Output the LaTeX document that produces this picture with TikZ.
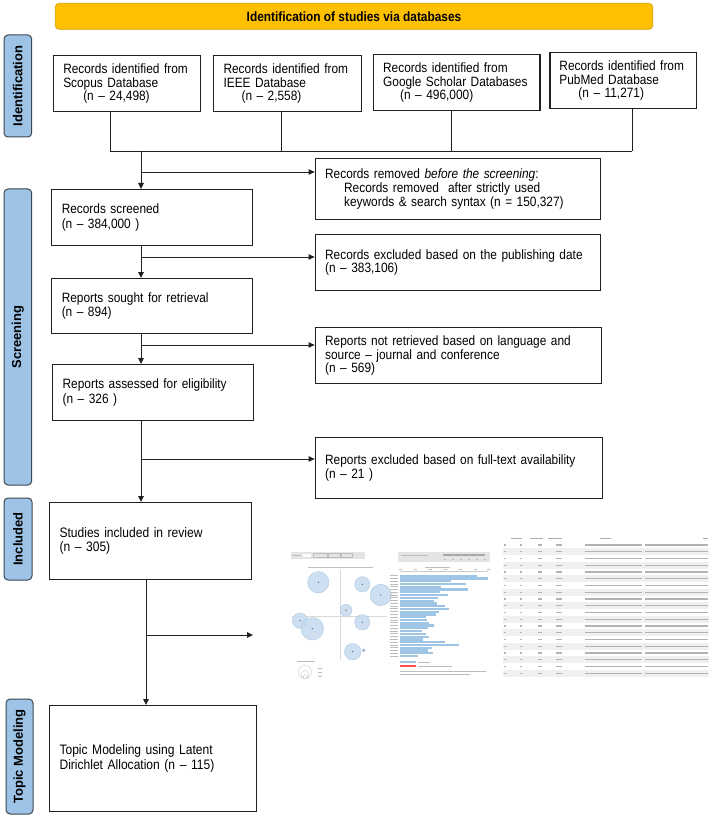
\documentclass[tikz,border=0pt]{standalone}
\usepackage{fontspec}
\setmainfont{Liberation Sans}
\newfontfamily\narrowfont[FakeStretch=0.88]{Liberation Sans}
\usetikzlibrary{arrows.meta}
\definecolor{linec}{HTML}{202020}
\definecolor{gold}{HTML}{FFC000}
\definecolor{goldb}{HTML}{D9A300}
\definecolor{lblue}{HTML}{9DC3E6}
\definecolor{lblueb}{HTML}{3E4650}
\definecolor{circf}{HTML}{C4D9EE}
\definecolor{circd}{HTML}{A8C4E0}
\definecolor{barc}{HTML}{9EC4E6}
\definecolor{shotg}{HTML}{E4E4E4}
\definecolor{txtg}{HTML}{BDBDBD}
\definecolor{tabg}{HTML}{B3B3B3}
\definecolor{rowg}{HTML}{F0F0F0}
\begin{document}
\begin{tikzpicture}[x=1pt,y=-1pt,
  box/.style={draw=linec, line width=1.1pt, align=left, inner xsep=10pt, inner ysep=0pt, anchor=north west, font=\narrowfont\fontsize{13.5}{13.8}\selectfont},
  lbox/.style={box, font=\narrowfont\fontsize{13.5}{14.2}\selectfont},
  lbl/.style={draw=lblueb, fill=lblue, rounded corners=4pt, line width=1pt, rotate=90, font=\fontsize{13}{15}\selectfont\bfseries, inner sep=0pt},
  conn/.style={draw=linec, line width=0.9pt},
  arr/.style={conn, -{Triangle[length=6pt,width=5.5pt]}},
]
\useasboundingbox (0,0) rectangle (709,818);

% banner
\node[draw=goldb, fill=gold, rounded corners=4pt, line width=0.8pt, minimum width=597.5pt, minimum height=26pt, inner sep=0pt, font=\narrowfont\fontsize{13.5}{15}\selectfont\bfseries] (banner) at (354,16.3) {Identification of studies via databases};

% side labels
\node[lbl, minimum width=102pt, minimum height=27.7pt] (lbl1) at (17.85,86) {Identification};
\node[lbl, minimum width=296pt, minimum height=27.7pt] (lbl2) at (17.85,337) {Screening};
\node[lbl, minimum width=82pt, minimum height=28pt] (lbl3) at (18,539) {Included};
\node[lbl, minimum width=115pt, minimum height=27pt] (lbl4) at (19.5,756.5) {Topic Modeling};

% identification boxes
\node[box, text width=126.8pt, minimum height=56pt] (b1) at (52.7,55) {Records identified from\\Scopus Database\\\hspace*{20pt}(n – 24,498)};
\node[box, text width=127.8pt, minimum height=56pt] (b2) at (213,55) {Records identified from\\IEEE Database\\\hspace*{18pt}(n – 2,558)};
\node[box, text width=146.8pt, minimum height=56pt] (b3) at (372.6,54) {Records identified from\\Google Scholar Databases\\\hspace*{17pt}(n – 496,000)};
\node[box, text width=127.4pt, minimum height=56pt, inner xsep=9.5pt] (b4) at (549.4,52) {Records identified from\\PubMed Database\\\hspace*{19pt}(n – 11,271)};

% right boxes
\node[box, text width=265.6pt, minimum height=61pt] (removed) at (314.6,158) {Records removed \textit{before the screening}:\\\hspace*{19pt}Records removed\ \ after strictly used\\\hspace*{19pt}keywords \& search syntax (n = 150,327)};
\node[box, text width=265.6pt, minimum height=56pt] (excluded) at (314.6,234) {Records excluded based on the publishing date\\(n – 383,106)};
\node[box, text width=266.4pt, minimum height=56pt] (notret) at (314.6,327) {Reports not retrieved based on language and\\source – journal and conference\\(n – 569)};
\node[box, text width=267.4pt, minimum height=61pt] (fulltext) at (314.6,437) {Reports excluded based on full-text availability\\(n – 21 )};

% left boxes
\node[lbox, text width=180.8pt, minimum height=56pt] (screened) at (51.2,189) {Records screened\\(n – 384,000 )};
\node[lbox, text width=180.8pt, minimum height=55pt] (sought) at (51.2,278) {Reports sought for retrieval\\(n – 894)};
\node[lbox, text width=180.9pt, minimum height=56pt] (assessed) at (52.1,364) {Reports assessed for eligibility\\(n – 326 )};
\node[lbox, text width=181.7pt, minimum height=77pt, font=\narrowfont\fontsize{13.7}{14.6}\selectfont] (included) at (49,502) {Studies included in review\\(n – 305)};
\node[lbox, text width=187pt, minimum height=106pt, font=\narrowfont\fontsize{13.7}{15}\selectfont] (topic) at (49,705) {Topic Modeling using Latent\\Dirichlet Allocation (n – 115)};

% connectors
\coordinate (j1) at (110,151);
\coordinate (j2) at (281,151);
\coordinate (j3) at (451.5,151);
\coordinate (j4) at (632.4,151);
\draw[conn] (b1.south -| j1) -- (j1);
\draw[conn] (b2.south -| j2) -- (j2);
\draw[conn] (b3.south -| j3) -- (j3);
\draw[conn] (b4.south -| j4) -- (j4);
\draw[conn] (j1) -- (j4);
\coordinate (s0) at (141,151);
\draw[arr] (s0) -- (s0 |- screened.north);
\coordinate (k1) at (141,172);
\draw[arr] (k1) -- (k1 -| removed.west);
\draw[arr] (screened.south -| s0) -- (sought.north -| s0);
\coordinate (k2) at (141,257);
\draw[arr] (k2) -- (k2 -| excluded.west);
\draw[arr] (sought.south -| s0) -- (assessed.north -| s0);
\coordinate (k3) at (141,345);
\draw[arr] (k3) -- (k3 -| notret.west);
\draw[arr] (assessed.south -| s0) -- (included.north -| s0);
\coordinate (k4) at (141,459);
\draw[arr] (k4) -- (k4 -| fulltext.west);
\coordinate (s1) at (146,635);
\draw[arr] (included.south -| s1) -- (topic.north -| s1);
\coordinate (tip) at (253,635);
\draw[arr] (s1) -- (tip);

% ---- LDAvis screenshot (simplified) ----
\begin{scope}
\fill[shotg] (291,552) rectangle (365,558.5);
\fill[white] (303,553.5) rectangle (311,557);
\fill[txtg] (292,554.8) rectangle (301,555.8);
\draw[txtg, line width=0.4pt] (313,553.3) rectangle (327,557.2) (328,553.3) rectangle (340,557.2) (341,553.3) rectangle (352,557.2);
\fill[shotg] (398,552) rectangle (490,562);
\fill[gray!70] (443,554) rectangle (485,556);
\fill[txtg] (401,554.5) rectangle (428,555.5);
\foreach \x in {444,452,460,468,476,484} \fill[txtg] (\x,558.5) rectangle (\x+2,559.5);
\fill[gray!50] (308,566.5) rectangle (373,567.8);
\fill[gray!50] (425,566.5) rectangle (450,567.8);
\draw[gray!30, line width=0.4pt] (340,570) -- (340,660) (292,616) -- (387,616);
\foreach \cx/\cy/\r in {318.3/582.3/10.7, 362.3/584.3/7.7, 380.7/595/10.7, 346/610.3/6, 300/620.7/7.7, 312.3/628.7/11.3, 362.3/622.3/7.7, 352.7/651.7/8.3, 363.7/650.3/1.7}{
  \fill[circf, draw=circd, line width=0.3pt, fill opacity=0.85] (\cx,\cy) circle[radius=\r];
  \fill[black!70] (\cx,\cy) circle[radius=0.6];
}
\fill[txtg] (297,660.5) rectangle (315,661.3);
\draw[gray!50, line width=0.3pt] (305,672) circle[radius=6.5] (305,674.5) circle[radius=4] (305,676.5) circle[radius=2];
\foreach \y in {668,672,676} \fill[txtg] (318,\y-0.4) rectangle (322,\y+0.4);
% bar chart
\draw[gray!40, line width=0.3pt] (400,571) -- (488,571);
\foreach \x in {400,415,430,445,460,475,488} \fill[txtg] (\x-1.5,569) rectangle (\x+1.5,569.8);
\foreach \e [count=\i from 0] in {476.7,488.3,450.7,466,440.7,468.3,440,447.7,438.3,434.3,437,444.7,449,439,435.7,425.7,426.7,429,434.3,427.7,421.7,426,429.3,422.7,445,459,431.7,428.3,433.3,417.7}{
  \pgfmathsetmacro\yy{575.7+\i*2.77}
  \fill[barc] (400,\yy-1.1) rectangle (\e,\yy+1.1);
  \fill[txtg] (390,\yy-0.45) rectangle (398,\yy+0.45);
}
\fill[barc] (400,661.3) rectangle (416,663.3);
\fill[red!70] (400,665) rectangle (416,667);
\fill[txtg] (418,661.9) rectangle (430,662.7);
\fill[txtg] (418,665.6) rectangle (452,666.4);
\fill[txtg] (400,670.6) rectangle (486,671.4);
\fill[txtg] (400,674.1) rectangle (470,674.9);
\end{scope}

% ---- table screenshot (simplified) ----
\begin{scope}
\foreach \a/\b in {511/522, 530/543, 548/562, 600/611, 703/708} \fill[gray!65] (\a,537.6) rectangle (\b,538.9);
\foreach \i in {0,...,19}{
  \pgfmathsetmacro\yy{545+\i*6.75}
  \ifodd\i \fill[rowg] (503,\yy-3.37) rectangle (709,\yy+3.37); \fi
  \fill[tabg] (503.5,\yy-0.6) rectangle (506,\yy+0.6);
  \fill[tabg] (520,\yy-0.6) rectangle (522,\yy+0.6);
  \fill[tabg] (538,\yy-0.6) rectangle (542,\yy+0.6);
  \fill[tabg] (556,\yy-0.6) rectangle (562,\yy+0.6);
  \fill[tabg] (585,\yy-0.6) rectangle (642,\yy+0.6);
  \fill[tabg] (645,\yy-0.6) rectangle (708,\yy+0.6);
}
\end{scope}
\end{tikzpicture}
\end{document}
